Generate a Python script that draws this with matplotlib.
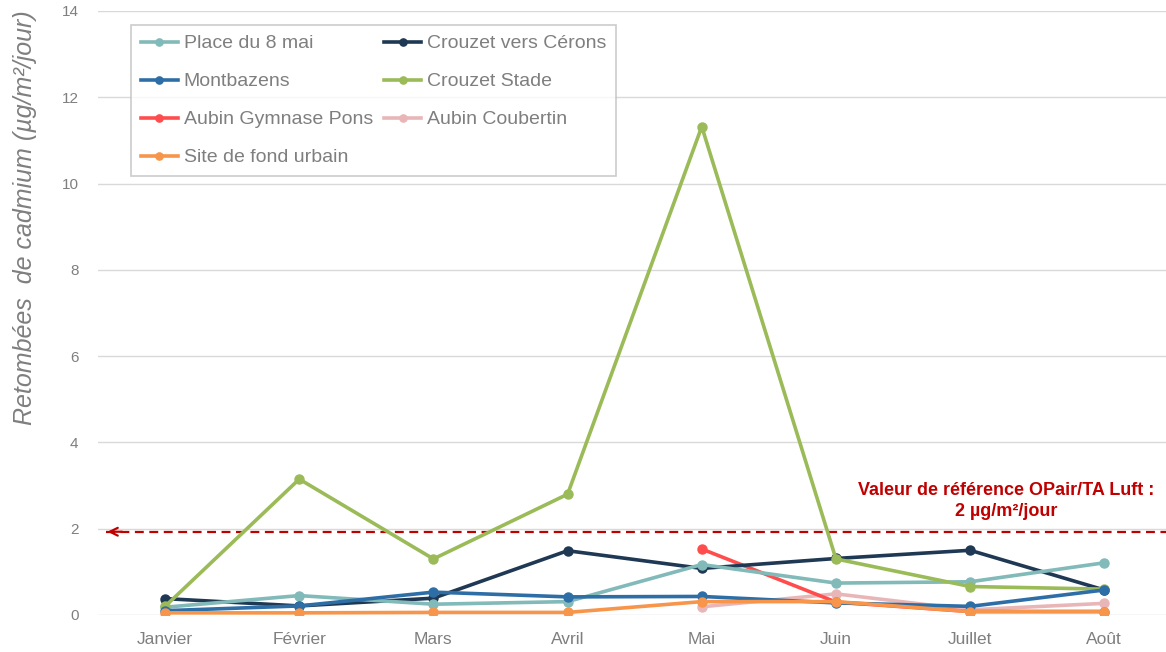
import numpy as np
import matplotlib
matplotlib.use("Agg")
import matplotlib.pyplot as plt

plt.rcParams['font.family'] = ['Liberation Sans', 'DejaVu Sans']

mois = ['Janvier', 'Février', 'Mars', 'Avril', 'Mai', 'Juin', 'Juillet', 'Août']
nan = np.nan

place_8_mai = [0.18, 0.45, 0.25, 0.31, 1.17, 0.74, 0.77, 1.21]
crouzet_cerons = [0.38, 0.21, 0.39, 1.49, 1.08, 1.31, 1.50, 0.58]
montbazens = [0.10, 0.21, 0.53, 0.42, 0.43, 0.28, 0.20, 0.58]
crouzet_stade = [0.20, 3.15, 1.30, 2.80, 11.32, 1.30, 0.66, 0.60]
aubin_pons = [nan, nan, nan, nan, 1.53, 0.30, 0.08, 0.08]
aubin_coubertin = [nan, nan, nan, nan, 0.19, 0.49, 0.12, 0.27]
fond_urbain = [0.05, 0.05, 0.06, 0.06, 0.31, 0.31, 0.08, 0.08]

valeur_ref = 1.93

fig = plt.figure(figsize=(11.66, 6.52), dpi=100)
ax = fig.add_axes([98/1166, 37/652, 1068/1166, 604/652])

x = np.arange(len(mois))
# legend is filled column-wise, so this order gives the source's rows
series = [
    ('Place du 8 mai', place_8_mai, '#82b9b9', 4),
    ('Montbazens', montbazens, '#2e6ea6', 5),
    ('Aubin Gymnase Pons', aubin_pons, '#ff4d4d', 3),
    ('Site de fond urbain', fond_urbain, '#f7964a', 6),
    ('Crouzet vers Cérons', crouzet_cerons, '#1f3853', 3),
    ('Crouzet Stade', crouzet_stade, '#9bbb59', 4),
    ('Aubin Coubertin', aubin_coubertin, '#e9b6b8', 2),
]
for nom, vals, col, z in series:
    ax.plot(x, vals, color=col, lw=2.6, marker='o', ms=6.5, label=nom, zorder=z)

ax.set_xlim(-0.5, 7.46)
ax.set_ylim(0, 14)
ax.set_yticks(np.arange(0, 15, 2))
ax.set_xticks(x)
ax.set_xticklabels(mois)
ax.grid(axis='y', color='#d9d9d9', lw=1)
ax.set_axisbelow(True)
for s in ax.spines.values():
    s.set_visible(False)
ax.tick_params(axis='both', length=0, colors='#7f7f7f', labelsize=12.5)
ax.tick_params(axis='x', pad=12)
ax.tick_params(axis='y', pad=14)
for t in ax.get_yticklabels():
    t.set_fontsize(11)

# reference line with arrow
ax.plot([-0.44, 7.46], [valeur_ref, valeur_ref], color='#c00000', lw=1.6,
        ls=(0, (4, 2.5)), zorder=1)
ax.annotate('', xy=(-0.45, valeur_ref), xytext=(-0.3, valeur_ref),
            arrowprops=dict(arrowstyle='->', color='#c00000', lw=1.6,
                            mutation_scale=14), zorder=1)
ax.text(6.27, 2.65, 'Valeur de référence OPair/TA Luft :\n2 µg/m²/jour',
        color='#c00000', fontsize=13, fontweight='bold', ha='center', va='center',
        linespacing=1.3)

fig.text(25/1166, 1 - 218/652, 'Retombées  de cadmium (µg/m²/jour)', rotation=90,
         ha='center', va='center', fontsize=18, style='italic', color='#7f7f7f')

leg = ax.legend(loc='upper left', bbox_to_anchor=(33/1068, 1 - 14/604), ncol=2,
                fontsize=14, frameon=True, fancybox=False, edgecolor='#bfbfbf',
                handlelength=1.9, handletextpad=0.3, columnspacing=0.6,
                labelspacing=1.05, borderpad=0.5, borderaxespad=0, markerscale=0.8)
leg.get_frame().set_linewidth(1.2)
for t in leg.get_texts():
    t.set_color('#7f7f7f')

fig.savefig('out.png', dpi=100)
